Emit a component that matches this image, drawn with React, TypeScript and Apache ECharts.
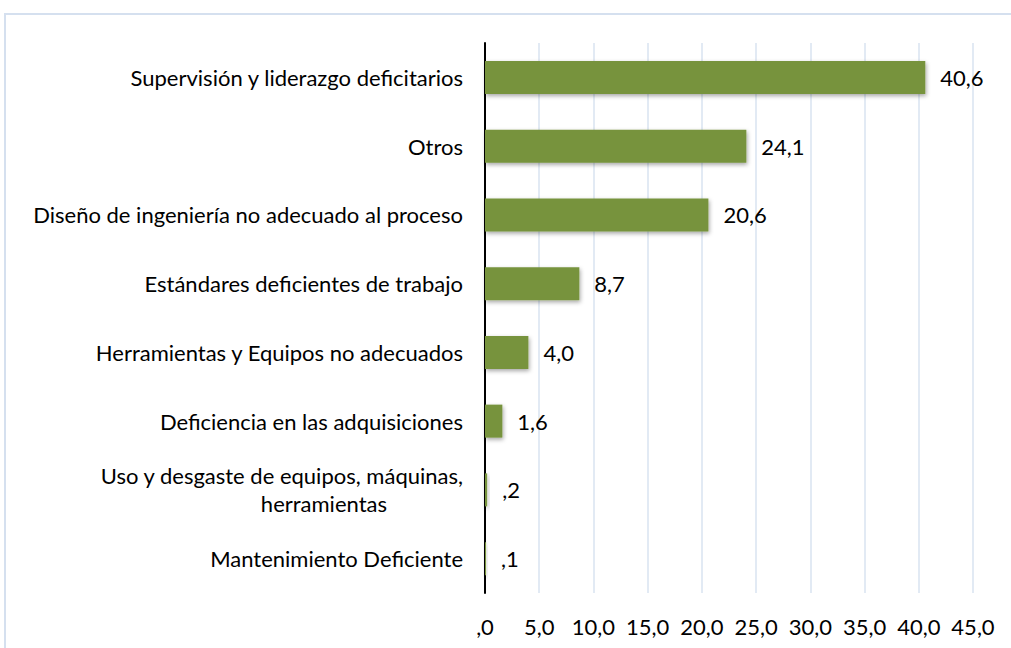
import React, { useEffect, useRef } from "react";
import * as echarts from "echarts";

const categories = [
  "Mantenimiento Deficiente",
  "Uso y desgaste de equipos, máquinas,\nherramientas",
  "Deficiencia en las adquisiciones",
  "Herramientas y Equipos no adecuados",
  "Estándares deficientes de trabajo",
  "Diseño de ingeniería no adecuado al proceso",
  "Otros",
  "Supervisión y liderazgo deficitarios",
];
const values = [0.1, 0.2, 1.6, 4.0, 8.7, 20.6, 24.1, 40.6];

const fmt = (v: number) => {
  let s = v.toFixed(1).replace(".", ",");
  if (s.startsWith("0,")) s = s.slice(1);
  return s;
};

const FONT = "Lato";
const FS = 22;

export default function App() {
  const ref = useRef<HTMLDivElement>(null);
  useEffect(() => {
    const chart = echarts.init(ref.current!, undefined, { renderer: "svg" });
    chart.setOption({
      animation: false,
      backgroundColor: "#ffffff",
      textStyle: { fontFamily: FONT },
      graphic: [
        {
          type: "rect",
          shape: { x: 5, y: 14, width: 1100, height: 700 },
          style: { fill: "none", stroke: "#D5E0EF", lineWidth: 2 },
          silent: true,
        },
      ],
      grid: { left: 485, right: 38, top: 43, bottom: 55, containLabel: false },
      xAxis: {
        type: "value",
        min: 0,
        max: 45,
        interval: 5,
        axisLine: { show: false },
        axisTick: { show: false },
        splitLine: { show: true, lineStyle: { color: "#D9E3F1", width: 1.5 } },
        axisLabel: {
          formatter: (v: number) => fmt(v),
          color: "#000",
          fontSize: FS,
          fontFamily: FONT,
          margin: 22,
        },
      },
      yAxis: {
        type: "category",
        data: categories,
        axisLine: { show: true, lineStyle: { color: "#000", width: 2 } },
        axisTick: { show: false },
        axisLabel: {
          color: "#000",
          fontSize: FS,
          fontFamily: FONT,
          margin: 22,
          formatter: (v: string) => {
            if (v.indexOf("\n") < 0) return v;
            const parts = v.split("\n");
            return "{a|" + parts[0] + "}\n{b|" + parts[1] + "}";
          },
          rich: {
            a: {
              fontSize: FS,
              fontFamily: FONT,
              color: "#000",
              lineHeight: 28,
            },
            b: {
              fontSize: FS,
              fontFamily: FONT,
              color: "#000",
              lineHeight: 28,
              padding: [0, 76, 0, 0],
            },
          },
        },
      },
      series: [
        {
          type: "bar",
          data: values,
          barWidth: 33,
          itemStyle: {
            color: "#77933C",
            shadowColor: "rgba(0,0,0,0.35)",
            shadowBlur: 4,
            shadowOffsetY: 2,
            shadowOffsetX: 1,
          },
          label: {
            show: true,
            position: "right",
            distance: 15,
            formatter: (p: any) => fmt(p.value),
            color: "#000",
            fontSize: FS,
            fontFamily: FONT,
          },
        },
      ],
    });
    return () => chart.dispose();
  }, []);
  return (
    <div
      ref={ref}
      style={{ position: "fixed", left: 0, top: 0, width: 1011, height: 648 }}
    />
  );
}
